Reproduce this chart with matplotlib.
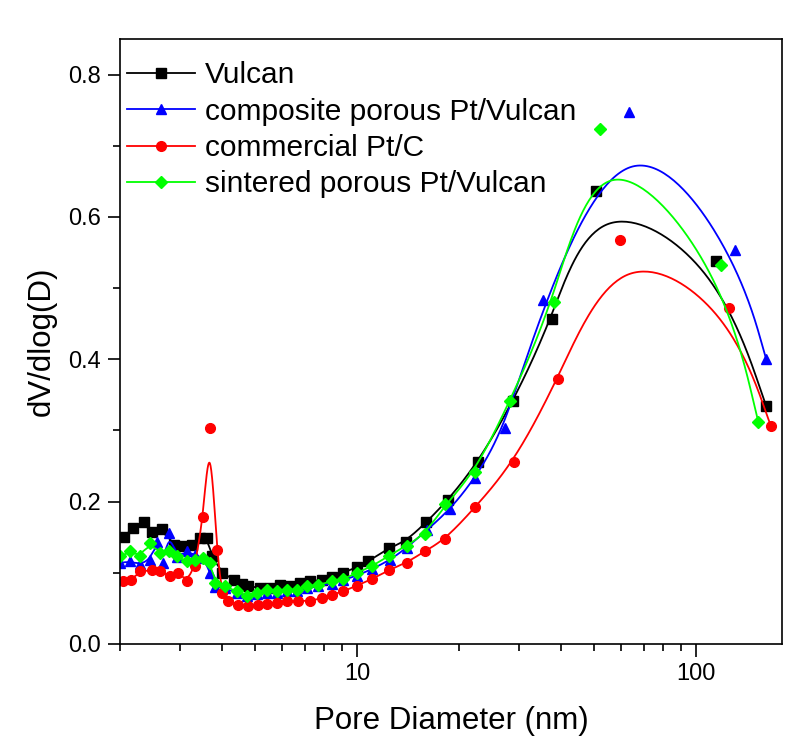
import numpy as np
import matplotlib
matplotlib.use('Agg')
import matplotlib.pyplot as plt
from matplotlib.lines import Line2D
from matplotlib.ticker import MultipleLocator, LogLocator, NullFormatter, FixedLocator, FixedFormatter

plt.rcParams['font.family'] = ['Liberation Sans', 'DejaVu Sans']

# pore diameter (nm) and dV/dlog(D) for each sample
vulcan_d = [2.05, 2.19, 2.35, 2.48, 2.66, 2.88, 3.08, 3.26, 3.45, 3.61, 3.73, 4.00, 4.33, 4.58,
            4.78, 5.17, 5.54, 5.93, 6.34, 6.79, 7.27, 7.87, 8.42, 9.11, 9.98, 10.8, 12.4, 13.9,
            16.0, 18.6, 22.8, 28.9, 37.5, 50.6, 114.6, 160.6]
vulcan_v = [0.151, 0.163, 0.172, 0.158, 0.161, 0.139, 0.137, 0.139, 0.149, 0.149, 0.123, 0.100,
            0.090, 0.085, 0.082, 0.078, 0.078, 0.083, 0.081, 0.086, 0.088, 0.090, 0.094, 0.100,
            0.108, 0.116, 0.135, 0.144, 0.171, 0.203, 0.256, 0.341, 0.456, 0.637, 0.538, 0.335]

composite_d = [2.00, 2.14, 2.29, 2.45, 2.57, 2.68, 2.79, 2.94, 3.15, 3.33, 3.52, 3.69, 3.81, 4.08,
               4.42, 4.73, 5.06, 5.42, 5.80, 6.20, 6.64, 7.11, 7.67, 8.42, 9.11, 9.98, 11.05,
               12.5, 14.0, 16.06, 18.8, 22.3, 27.3, 35.4, 63.4, 130.3, 160.6]
composite_v = [0.114, 0.116, 0.112, 0.118, 0.144, 0.114, 0.156, 0.122, 0.130, 0.125, 0.121, 0.100,
               0.080, 0.078, 0.072, 0.068, 0.070, 0.072, 0.072, 0.074, 0.075, 0.078, 0.081, 0.085,
               0.090, 0.096, 0.105, 0.118, 0.135, 0.160, 0.189, 0.233, 0.303, 0.483, 0.747,
               0.554, 0.401]

commercial_d = [2.04, 2.16, 2.29, 2.48, 2.62, 2.81, 2.97, 3.15, 3.33, 3.52, 3.68, 3.86, 3.99, 4.17,
                4.47, 4.78, 5.11, 5.42, 5.80, 6.20, 6.71, 7.27, 7.87, 8.42, 9.11, 9.98, 11.05,
                12.4, 14.0, 15.9, 18.2, 22.3, 29.1, 39.2, 59.4, 125.0, 166.0]
commercial_v = [0.088, 0.090, 0.102, 0.104, 0.102, 0.095, 0.100, 0.088, 0.109, 0.179, 0.303, 0.132,
                0.072, 0.060, 0.055, 0.053, 0.055, 0.056, 0.058, 0.060, 0.060, 0.061, 0.064, 0.069,
                0.074, 0.082, 0.091, 0.104, 0.114, 0.131, 0.147, 0.192, 0.256, 0.373, 0.567,
                0.472, 0.306]

sintered_d = [2.00, 2.14, 2.29, 2.45, 2.62, 2.78, 2.94, 3.15, 3.33, 3.52, 3.69, 3.81, 4.08, 4.42,
              4.73, 5.06, 5.42, 5.80, 6.20, 6.64, 7.11, 7.67, 8.42, 9.11, 9.98, 11.05, 12.4,
              14.0, 15.9, 18.2, 22.3, 28.3, 38.1, 52.1, 118.3, 152.4]
sintered_v = [0.123, 0.130, 0.123, 0.142, 0.128, 0.130, 0.123, 0.116, 0.118, 0.121, 0.114, 0.086,
              0.081, 0.074, 0.067, 0.072, 0.076, 0.074, 0.076, 0.076, 0.081, 0.083, 0.088, 0.091,
              0.100, 0.109, 0.124, 0.138, 0.155, 0.196, 0.242, 0.342, 0.481, 0.724, 0.533, 0.312]

labels = ['Vulcan', 'composite porous Pt/Vulcan', 'commercial Pt/C', 'sintered porous Pt/Vulcan']
colors = ['#000000', '#0000ff', '#ff0000', '#00ff00']
markers = ['s', '^', 'o', 'D']
msizes = [6.5, 7.5, 7, 6]


def bspline(xs, ys, n=40):
    # uniform cubic B-spline (data as control points) in log-x, ends clamped
    pts = np.column_stack([np.log10(xs), ys])
    pts = np.vstack([pts[:1], pts[:1], pts, pts[-1:], pts[-1:]])
    t = np.linspace(0, 1, n, endpoint=False)
    M = np.array([[-1, 3, -3, 1], [3, -6, 3, 0], [-3, 0, 3, 0], [1, 4, 1, 0]]) / 6.0
    B = np.column_stack([t**3, t**2, t, np.ones_like(t)]) @ M
    out = [B @ pts[i:i + 4] for i in range(len(pts) - 3)]
    out.append(pts[-1:])
    out = np.vstack(out)
    return 10 ** out[:, 0], out[:, 1]


fig = plt.figure(figsize=(8.02, 7.47), dpi=100)
ax = fig.add_axes([120 / 802, 1 - 644 / 747, 662 / 802, 605 / 747])

series = [(vulcan_d, vulcan_v), (composite_d, composite_v),
          (commercial_d, commercial_v), (sintered_d, sintered_v)]
handles = []
for (d, v), lab, c, m, ms in zip(series, labels, colors, markers, msizes):
    sx, sy = bspline(d, v)
    ax.plot(sx, sy, color=c, lw=1.3)
    ax.plot(d, v, linestyle='none', marker=m, ms=ms, color=c, mec=c)
    handles.append(Line2D([], [], color=c, lw=1.3, marker=m, ms=ms, mec=c))

ax.set_xscale('log')
ax.set_xlim(2, 179)
ax.set_ylim(0, 0.85)

ax.xaxis.set_major_locator(FixedLocator([10, 100]))
ax.xaxis.set_major_formatter(FixedFormatter(['10', '100']))
ax.xaxis.set_minor_locator(LogLocator(base=10, subs=np.arange(2, 10)))
ax.xaxis.set_minor_formatter(NullFormatter())
ax.yaxis.set_major_locator(MultipleLocator(0.2))
ax.yaxis.set_minor_locator(MultipleLocator(0.1))
ax.yaxis.set_major_formatter(plt.FuncFormatter(lambda v, p: f'{v:.1f}'))

ax.tick_params(which='both', direction='out', width=1.2, top=False, right=False)
ax.tick_params(which='major', length=9, labelsize=17, pad=5)
ax.tick_params(which='minor', length=5)
for s in ax.spines.values():
    s.set_linewidth(1.2)

ax.set_xlabel('Pore Diameter (nm)', fontsize=22.5, labelpad=15)
ax.set_ylabel('dV/dlog(D)', fontsize=22.5, labelpad=8)

ax.legend(handles, labels, loc='upper left', bbox_to_anchor=(0.010, 0.963), frameon=False,
          fontsize=21.5, borderpad=0, borderaxespad=0, handlelength=2.3, handletextpad=0.33,
          labelspacing=0.28, numpoints=1)

fig.savefig('out.png', dpi=100, facecolor='white')
